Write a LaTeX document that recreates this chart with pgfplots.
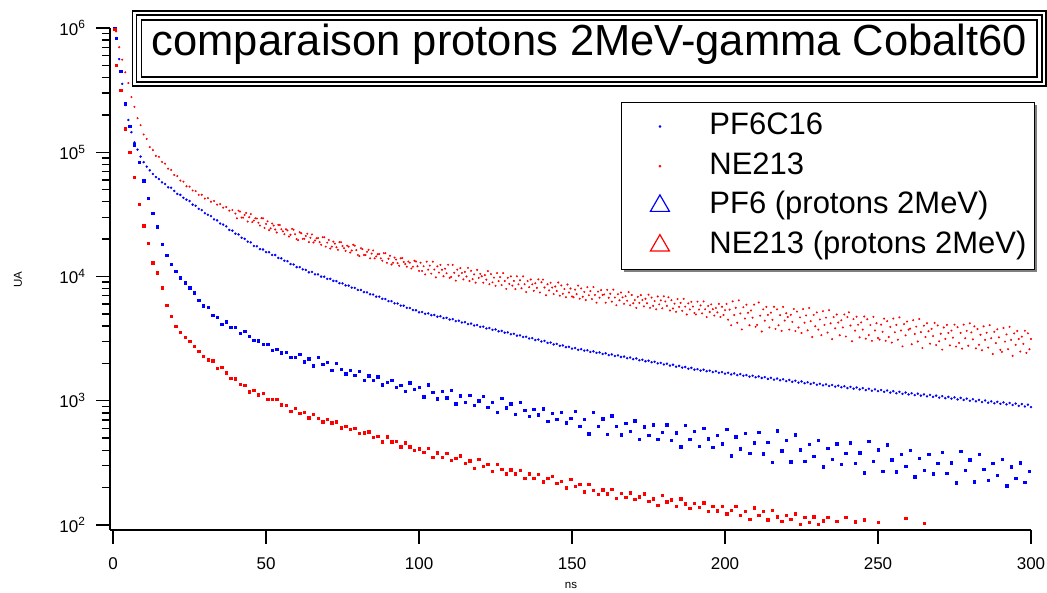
\documentclass[border=0pt]{standalone}
\usepackage{fontspec}
\setmainfont{Liberation Sans}
\usepackage{pgfplots}
\usepackage{pgfplotstable}
\pgfplotsset{compat=1.18}
\usetikzlibrary{shadows}

% PF6C16 (gamma) -- lower blue
\pgfplotstableread{
x y
0.5 990000
1 830000
2.5 447000
4 245000
5.5 162000
7 115000
8.5 83200
10 58900
11.5 42700
13 32400
14.5 25100
16 18200
17.5 14800
19 12600
20.5 11000
22 9770
23.5 8910
25 8130
26.5 7410
28 6460
29.5 5820
31 5640
32.5 4900
34 4720
35.5 4120
37 4320
38.5 3900
40 3890
41.5 3500
43 3610
44.5 3310
46 3060
47.5 3040
49 2840
50.5 2840
52 2550
53.5 2610
55 2440
56.5 2470
58 2250
59.5 2250
61 2380
62.5 2070
64 2180
65.5 1910
67 2240
68.5 1960
70 2040
71.5 1770
73 2000
74.5 1800
76 1650
77.5 1760
79 1610
80.5 1730
82 1460
83.5 1590
85 1460
86.5 1560
88 1350
89.5 1410
91 1470
92.5 1290
94 1340
95.5 1190
97 1400
98.5 1240
100 1290
101.5 1080
103 1350
104.5 1170
106 1040
107.5 1190
109 1060
110.5 1210
112 946
113.5 1100
115 979
116.5 1110
118 920
119.5 1000
121 1090
122.5 891
124 970
125.5 813
127 1050
128.5 877
130 944
131.5 780
133 975
134.5 841
136 755
137.5 859
139 771
140.5 865
142 685
143.5 791
145 710
146.5 805
148 667
149.5 726
151 826
152.5 624
154 713
155.5 543
157 813
158.5 627
160 716
161.5 541
163 760
164.5 624
166 533
167.5 662
169 566
170.5 689
172 489
173.5 619
175 530
176.5 644
178 491
179.5 561
181 641
182.5 484
184 553
185.5 427
187 638
188.5 492
190 569
191.5 430
193 604
194.5 495
196 424
197.5 526
199 450
200.5 590
202 361
203.5 512
205 410
206.5 547
208 378
209.5 460
211 561
212.5 376
214 463
215.5 320
217 575
218.5 397
220 484
221.5 324
223 533
224.5 403
226 327
227.5 449
229 360
230.5 480
232 294
233.5 416
235 337
236.5 450
238 310
239.5 378
241 461
242.5 313
244 381
245.5 263
247 473
248.5 327
250 403
251.5 270
253 444
254.5 335
256 269
257.5 373
259 299
260.5 399
262 244
263.5 346
265 277
266.5 370
268 258
269.5 315
271 384
272.5 260
274 317
275.5 219
277 394
278.5 275
280 335
281.5 224
283 373
284.5 282
286 229
287.5 314
289 252
290.5 340
292 208
293.5 294
295 239
296.5 318
298 220
299.5 271
}\lowblue

% NE213 (gamma) -- lower red
\pgfplotstableread{
x y
0.5 980000
1 501000
2.5 316000
4 155000
5.5 100000
7 63100
8.5 38000
10 25700
11.5 18600
13 12900
14.5 10700
16 8130
17.5 5890
19 4790
20.5 3980
22 3550
23.5 3240
25 3020
26.5 2750
28 2510
29.5 2290
31 2140
32.5 2100
34 1820
35.5 1870
37 1680
38.5 1520
40 1510
41.5 1360
43 1340
44.5 1180
46 1220
47.5 1120
49 1150
50.5 1035
52 1030
53.5 1035
55 928
56.5 923
58 822
59.5 871
61 794
62.5 808
64 733
65.5 781
67 724
68.5 680
70 708
71.5 665
73 680
74.5 606
76 627
77.5 589
79 603
80.5 550
82 553
83.5 562
85 510
86.5 519
88 468
89.5 513
91 468
92.5 471
94 427
95.5 460
97 427
98.5 400
100 412
101.5 387
103 415
104.5 350
106 382
107.5 350
109 379
110.5 332
112 346
113.5 361
115 316
116.5 330
118 288
119.5 339
121 296
122.5 309
124 271
125.5 310
127 282
128.5 258
130 279
131.5 259
133 277
134.5 237
136 258
137.5 237
139 256
140.5 224
142 237
143.5 247
145 216
146.5 225
148 200
149.5 234
151 205
152.5 214
154 185
155.5 212
157 191
158.5 177
160 193
161.5 179
163 194
164.5 164
166 181
167.5 167
169 182
170.5 161
172 169
173.5 179
175 155
176.5 163
178 145
179.5 174
181 154
182.5 160
184 141
185.5 163
187 148
188.5 137
190 150
191.5 139
193 151
194.5 129
196 142
197.5 130
199 141
200.5 123
202 132
203.5 141
205 120
206.5 129
208 111
209.5 138
211 120
212.5 129
214 110
215.5 132
217 117
218.5 107
220 120
221.5 111
223 123
224.5 101
226 115
227.5 105
229 117
230.5 101
232 108
233.5 116
236.5 107
239.5 115
242.5 106
245.5 110
250 105
259 113
265 104
}\lowred

% PF6 (protons 2MeV) -- upper blue
\pgfplotstableread{
x y
1 832000
2 562000
3 355000
4 240000
5 182000
6 145000
7 120000
8 105000
9 92300
10 83200
11 76700
12 71600
13 66900
14 63100
15 60900
16 57300
17 55500
18 52200
19 51800
20 48800
21 46200
22 45400
23 43000
24 41500
25 40500
26 37900
27 37100
28 35000
29 34200
30 32300
31 31400
32 30600
33 28800
34 28300
35 26700
36 26200
37 25300
38 23700
39 23400
40 22100
41 21800
42 20500
43 20100
44 19100
45 18800
46 17600
47 17500
48 16600
49 16500
50 15700
51 15700
52 14900
53 14900
54 14100
55 14000
56 13400
57 13300
58 12600
59 12500
60 11900
61 11900
62 11400
63 11300
64 10800
65 10900
66 10400
67 10400
68 9980
69 9970
70 9580
71 9580
72 9220
73 9190
74 8830
75 8800
76 8480
77 8450
78 8130
79 8100
80 7800
81 7800
82 7480
83 7450
84 7190
85 7160
86 6880
87 6880
88 6610
89 6590
90 6340
91 6330
92 6080
93 6070
94 5830
95 5820
96 5590
97 5580
98 5370
99 5350
100 5150
101 5180
102 5010
103 5050
104 4880
105 4910
106 4750
107 4790
108 4620
109 4650
110 4500
111 4540
112 4380
113 4410
114 4260
115 4290
116 4140
117 4180
118 4030
119 4070
120 3930
121 3950
122 3820
123 3850
124 3720
125 3750
126 3620
127 3650
128 3530
129 3550
130 3430
131 3460
132 3340
133 3360
134 3260
135 3280
136 3170
137 3190
138 3080
139 3110
140 3000
141 3030
142 2920
143 2940
144 2840
145 2870
146 2770
147 2790
148 2700
149 2720
150 2630
151 2660
152 2570
153 2600
154 2530
155 2550
156 2470
157 2500
158 2430
159 2450
160 2380
161 2410
162 2330
163 2360
164 2290
165 2320
166 2250
167 2270
168 2200
169 2230
170 2160
171 2190
172 2120
173 2140
174 2080
175 2100
176 2040
177 2060
178 2000
179 2020
180 1960
181 1990
182 1920
183 1950
184 1880
185 1910
186 1850
187 1870
188 1810
189 1840
190 1780
191 1800
192 1750
193 1780
194 1730
195 1750
196 1700
197 1730
198 1680
199 1700
200 1655
201 1680
202 1630
203 1660
204 1610
205 1640
206 1590
207 1610
208 1565
209 1590
210 1545
211 1570
212 1525
213 1550
214 1500
215 1530
216 1480
217 1510
218 1460
219 1490
220 1440
221 1470
222 1420
223 1450
224 1400
225 1430
226 1385
227 1410
228 1365
229 1395
230 1345
231 1370
232 1330
233 1355
234 1315
235 1340
236 1300
237 1325
238 1285
239 1310
240 1265
241 1295
242 1250
243 1280
244 1235
245 1265
246 1220
247 1250
248 1205
249 1235
250 1195
251 1220
252 1180
253 1210
254 1165
255 1195
256 1150
257 1180
258 1135
259 1165
260 1125
261 1150
262 1110
263 1140
264 1100
265 1125
266 1085
267 1115
268 1075
269 1100
270 1060
271 1090
272 1050
273 1075
274 1040
275 1065
276 1025
277 1055
278 1015
279 1040
280 1000
281 1030
282 990
283 1015
284 975
285 1005
286 965
287 990
288 955
289 980
290 945
291 970
292 935
293 960
294 925
295 950
296 910
297 940
298 900
299 930
300 890
}\upblue

% NE213 (protons 2MeV) -- upper red
\pgfplotstableread{
x y
1 940000
2 700000
3 556000
4 440000
5 360000
6 278000
7 232000
8 188000
9 165000
10 139000
11 128000
12 110000
13 104000
14 93500
15 91800
16 83600
17 80900
18 73800
19 72100
20 65700
21 64300
22 59200
23 58000
24 53300
25 52900
26 49200
27 48700
28 45400
29 45500
30 42400
31 42800
32 40000
33 40600
34 37900
35 38300
36 35800
37 36300
38 33900
39 34300
40 32100
41 33900
42 29800
43 31300
44 27700
45 31800
46 28200
47 29300
48 25700
49 29400
50 26500
51 23600
52 26700
53 23900
54 26000
55 24000
56 21900
57 23500
58 21700
59 23800
60 20000
61 22700
62 20100
63 21200
64 18900
65 21800
66 19500
67 20400
68 18000
69 20700
70 18750
71 16800
72 19100
73 17200
74 18900
75 17600
76 16100
77 17400
78 16200
79 17700
80 14900
81 16900
82 14900
83 15800
84 14000
85 16200
86 14500
87 15200
88 13400
89 15400
90 13900
91 12500
92 14200
93 12800
94 14000
95 13100
96 12000
97 12900
98 12000
99 13200
100 11100
40.5 29400
41.5 33300
42.5 29800
43.5 32500
44.5 30000
45.5 27400
46.5 29400
47.5 27100
48.5 29500
49.5 24600
50.5 27800
51.5 24400
52.5 25700
53.5 22600
54.5 26000
55.5 23100
56.5 24000
57.5 21000
58.5 24200
59.5 21900
60.5 19600
61.5 22300
62.5 20100
63.5 22100
64.5 20500
65.5 18800
66.5 20300
67.5 18900
68.5 20700
69.5 17400
70.5 19700
71.5 17400
72.5 18400
73.5 16400
74.5 18900
75.5 16900
76.5 17700
77.5 15600
78.5 18000
79.5 16300
80.5 14600
81.5 16600
82.5 14900
83.5 16400
84.5 15300
85.5 14000
86.5 15100
87.5 14000
88.5 15400
89.5 12900
90.5 14700
91.5 12900
92.5 13700
93.5 12200
94.5 14100
95.5 12600
96.5 13200
97.5 11600
98.5 13400
99.5 12100
100.5 12920
101 11080
101.5 12100
102 10390
102.5 13170
103 11350
103.5 12230
104 10550
104.5 13160
105 11380
105.5 9840
106 12070
106.5 10760
107 12410
107.5 11340
108 10050
108.5 11560
109 10620
109.5 12440
110 9750
110.5 9930
111 12390
111.5 10710
112 9260
112.5 11360
113 10140
113.5 11690
114 10680
114.5 9480
115 10900
115.5 10010
116 11730
116.5 9200
117 11110
117.5 9520
118 10400
118.5 8930
119 11310
119.5 9750
120 10500
120.5 10060
121 8920
121.5 10260
122 9430
122.5 11050
123 8670
123.5 10470
124 8970
124.5 9800
125 8410
125.5 10660
126 9190
126.5 9900
127 8540
127.5 10650
128 9200
128.5 7960
129 9760
129.5 8710
130 10030
130.5 8440
131 9220
131.5 7920
132 10040
132.5 8650
133 9320
133.5 8040
134 10030
134.5 8670
135 7500
135.5 9200
136 8210
136.5 9460
137 8650
137.5 7670
138 8820
138.5 8100
139 9490
139.5 7440
140 8990
140.5 9440
141 8160
141.5 7060
142 8660
142.5 7730
143 8910
143.5 8150
144 7230
144.5 8310
145 7640
145.5 8950
146 7010
146.5 8470
147 7260
147.5 7930
148 6810
148.5 8620
149 7430
149.5 8010
150 6910
150.5 6810
151 7840
151.5 7210
152 8450
152.5 6630
153 8020
153.5 6880
154 7520
154.5 6470
155 8200
155.5 7070
156 7630
156.5 6590
157 8220
157.5 7110
158 6160
158.5 7560
159 6750
159.5 7780
160 7120
160.5 7170
161 6160
161.5 7810
162 6740
162.5 7270
163 6280
163.5 7840
164 6780
164.5 5870
165 7210
165.5 6440
166 7430
166.5 6790
167 6030
167.5 6940
168 6380
168.5 7490
169 5870
169.5 7100
170 6090
170.5 6460
171 5590
171.5 6870
172 6130
172.5 7080
173 6470
173.5 5750
174 6620
174.5 6090
175 7140
175.5 5600
176 6770
176.5 5810
177 6350
177.5 5450
178 6910
178.5 5970
179 6430
179.5 5550
180 6930
180.5 6300
181 5800
181.5 6800
182 5330
182.5 6450
183 5530
183.5 6050
184 5200
184.5 6590
185 5690
185.5 6140
186 5300
186.5 6610
187 5720
187.5 4950
188 6080
188.5 5430
189 6260
189.5 5730
190 5090
190.5 4950
191 6280
191.5 5420
192 5850
192.5 5050
193 6300
193.5 5450
194 4720
194.5 5800
195 5180
195.5 5970
196 5460
196.5 4850
197 5580
197.5 5140
198 6020
198.5 4730
199 5710
199.5 4900
200 5360
200.5 6020
201 4490
201.5 5410
202 4050
202.5 6310
203 4900
203.5 5600
204 4250
204.5 6430
205 5040
205.5 3750
206 5660
206.5 4590
207 5930
207.5 5110
208 4050
208.5 5330
209 4660
209.5 5940
210 3940
210.5 4080
211 6180
211.5 4840
212 3610
212.5 5440
213 4410
213.5 5700
214 4910
214.5 3890
215 5120
215.5 4480
216 5710
216.5 3790
217 5440
217.5 4050
218 4890
218.5 3650
219 5700
219.5 4420
220 5060
220.5 4720
221 3740
221.5 4920
222 4310
222.5 5480
223 3640
223.5 5220
224 3890
224.5 4690
225 3510
225.5 5470
226 4250
226.5 4860
227 3690
227.5 5580
228 4370
228.5 3260
229 4910
229.5 3980
230 5140
230.5 3740
231 4510
231.5 3370
232 5260
232.5 4080
233 4670
233.5 3540
234 5360
234.5 4200
235 3130
235.5 4720
236 3830
236.5 4950
237 4260
237.5 3370
238 4440
238.5 3890
239 4950
239.5 3290
240 4720
240.5 5150
241 4030
241.5 3010
242 4540
242.5 3670
243 4750
243.5 4090
244 3240
244.5 4270
245 3740
245.5 4760
246 3160
246.5 4530
247 3380
247.5 4070
248 3040
248.5 4740
249 3680
249.5 4210
250 3200
250.5 3110
251 4100
251.5 3590
252 4580
252.5 3040
253 4370
253.5 3260
254 3930
254.5 2940
255 4590
255.5 3560
256 4080
256.5 3100
257 4690
257.5 3680
258 2740
258.5 4140
259 3360
259.5 4340
260 3740
260.5 3810
261 2850
261.5 4450
262 3450
262.5 3950
263 3000
263.5 4550
264 3570
264.5 2660
265 4020
265.5 3260
266 4210
266.5 3630
267 2880
267.5 3790
268 3320
268.5 4230
269 2810
269.5 4040
270 3010
270.5 3460
271 2580
271.5 3890
272 3150
272.5 4080
273 3520
273.5 2790
274 3670
274.5 3220
275 4100
275.5 2730
276 3910
276.5 2920
277 3520
277.5 2630
278 4100
278.5 3190
279 3650
279.5 2770
280 4200
280.5 3550
281 3120
281.5 3970
282 2640
282.5 3780
283 2820
283.5 3400
284 2550
284.5 3970
285 3090
285.5 3530
286 2680
286.5 4060
287 3190
287.5 2380
288 3590
288.5 2910
289 3760
289.5 3240
290 2570
290.5 2470
291 3850
291.5 2990
292 3420
292.5 2600
293 3940
293.5 3090
294 2300
294.5 3480
295 2820
295.5 3640
296 3140
296.5 2490
297 3280
297.5 2870
298 3660
298.5 2430
299 3490
299.5 2600
300 3140
}\upred

\begin{document}
\begin{tikzpicture}
\path[use as bounding box] (0,0) rectangle (1047pt,592pt);
% title frame (triple line, drawn under the axis)
\draw[line width=1.5pt, fill=white] (132.5pt,506pt) rectangle (1046pt,581pt);
\draw[line width=1.1pt] (136.5pt,510pt) rectangle (1042pt,577pt);
\draw[line width=1.1pt] (141.5pt,515pt) rectangle (1037pt,572pt);
\begin{axis}[
  at={(110pt,62pt)}, anchor=south west,
  scale only axis, width=921pt, height=502pt,
  xmin=-1, xmax=300, ymin=91.2, ymax=1000000,
  ymode=log,
  axis lines*=left,
  axis line style={line width=1.4pt, black},
  tick align=outside,
  major tick length=14pt, minor tick length=8pt,
  tick style={black, line width=1.4pt},
  xtick={0,50,100,150,200,250,300},
  xticklabels={0,50,100,150,200,250,300},
  ytick={100,1000,10000,100000,1000000},
  yticklabels={10\textsuperscript{2},10\textsuperscript{3},10\textsuperscript{4},10\textsuperscript{5},10\textsuperscript{6}},
  minor ytick={200,300,400,500,600,700,800,900,2000,3000,4000,5000,6000,7000,8000,9000,20000,30000,40000,50000,60000,70000,80000,90000,200000,300000,400000,500000,600000,700000,800000,900000},
  tick label style={font=\fontsize{17}{20}\selectfont},
  xticklabel style={yshift=-10pt},
  yticklabel style={xshift=-7pt},
  xlabel={ns}, ylabel={UA},
  label style={font=\fontsize{11.5}{14}\selectfont},
  xlabel style={at={(axis description cs:0.5005,-0.1096)}, anchor=center},
  ylabel style={at={(axis description cs:-0.0999,0.498)}, anchor=center},
  title={comparaison protons 2MeV-gamma Cobalt60},
  title style={at={(axis description cs:0.5206,0.9323)}, anchor=base, font=\fontsize{43.5}{50}\selectfont, inner sep=0pt},
  legend cell align=left,
  legend style={at={(axis description cs:1.0043,0.8526)}, anchor=north east,
    draw=black, line width=1pt, fill=white,
    font=\fontsize{31}{37}\selectfont,
    inner xsep=8pt, inner ysep=9pt, row sep=9.7pt,
    nodes={inner sep=0pt, text height=23pt, text depth=7pt},
    /tikz/every odd column/.append style={column sep=27pt},
    drop shadow={shadow xshift=2.5pt, shadow yshift=-2.5pt, fill=black}},
  legend image code/.code={\path (0pt,-3pt) (52pt,3pt); \draw[#1] plot coordinates {(30pt,0pt)};},
]
\addplot[only marks, mark=*, mark size=0.8pt, red, forget plot] table {\upred};
\addplot[only marks, mark=*, mark size=1.0pt, blue, forget plot] table {\upblue};
\addplot[only marks, mark=square*, mark size=1.2pt, blue, forget plot] table {\lowblue};
\addplot[only marks, mark=square*, mark size=1.2pt, red, forget plot] table {\lowred};
\addlegendimage{only marks, mark=*, mark size=1.1pt, blue, mark options={line width=0.4pt}}
\addlegendentry{PF6C16}
\addlegendimage{only marks, mark=*, mark size=1.1pt, red, mark options={line width=0.4pt}}
\addlegendentry{NE213}
\addlegendimage{only marks, mark=triangle, mark size=11pt, blue, mark options={line width=1.2pt}}
\addlegendentry{PF6 (protons 2MeV)}
\addlegendimage{only marks, mark=triangle, mark size=11pt, red, mark options={line width=1.2pt}}
\addlegendentry{NE213 (protons 2MeV)}
\end{axis}
\end{tikzpicture}
\end{document}
